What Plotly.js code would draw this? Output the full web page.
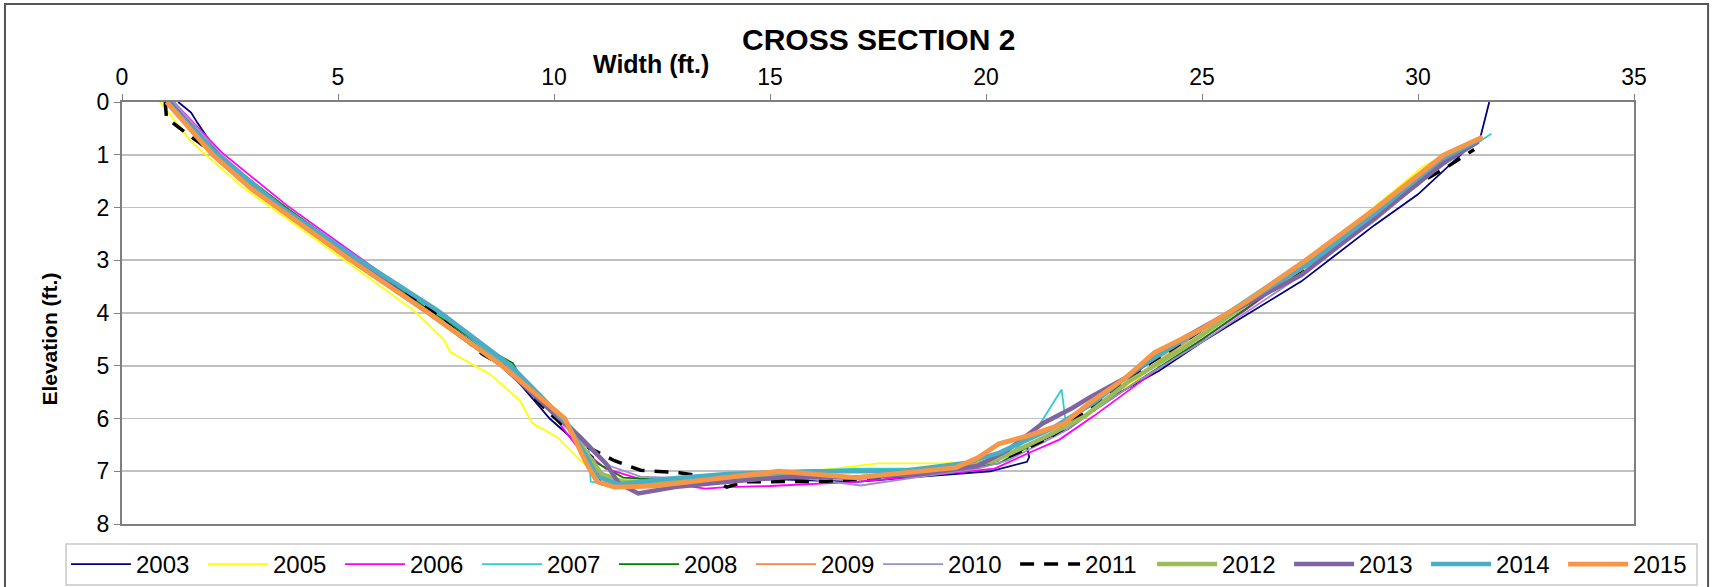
<!DOCTYPE html>
<html>
<head>
<meta charset="utf-8">
<script src="https://cdn.plot.ly/plotly-3.0.1.min.js"></script>
<style>
html,body{margin:0;padding:0;background:#fff;}
#chart{width:1713px;height:587px;}
</style>
</head>
<body>
<div id="chart"></div>
<script>
// ---- data (Width ft., Elevation ft.) ----
const years = ['2003','2005','2006','2007','2008','2009','2010','2011','2012','2013','2014','2015'];
const colors = ['#000080','#FFFF00','#FF00FF','#33CCCC','#008000','#F08A44','#A08CC8','#000000','#9BBB59','#8064A2','#4BACC6','#F79646'];

const x2003 = [1.3,1.6,1.75,2.2,3.6,5.3,7.1,8.8,9.9,10.9,11.1,12.0,13.5,15.0,17.0,18.5,20.1,20.95,21.0,20.95,21.9,23.0,24.0,25.0,26.5,27.3,29.0,30.0,31.45,31.65];
const y2003 = [0.0,0.2,0.4,0.95,1.95,2.95,3.95,4.95,6.0,6.73,7.25,7.25,7.25,7.15,7.2,7.1,7.0,6.82,6.73,6.54,6.2,5.55,5.1,4.55,3.8,3.4,2.33,1.75,0.65,0.0];

const x2005 = [0.88,1.6,2.73,3.04,4.12,5.5,6.74,7.45,7.6,8.5,9.2,9.5,10.07,10.6,10.9,11.5,13.0,15.0,16.5,17.5,19.0,20.0,21.0,21.9,22.6,22.8,23.3,24.5,26.0,28.0,29.5,30.1,30.5,31.45];
const y2005 = [0.0,0.75,1.57,1.76,2.39,3.2,3.94,4.51,4.74,5.15,5.65,6.09,6.35,6.79,6.98,7.15,7.2,7.05,6.95,6.85,6.85,6.8,6.5,6.1,5.6,5.45,5.4,4.55,3.8,2.65,1.65,1.23,1.06,0.72];

const x2006 = [1.2,2.3,3.8,5.5,7.2,8.9,9.9,10.5,11.2,12.0,13.5,14.0,15.0,17.0,19.0,20.2,21.0,21.7,22.5,24.0,26.0,28.0,30.0,31.3];
const y2006 = [0.0,0.95,1.95,2.95,3.95,4.95,5.85,6.5,6.95,7.15,7.33,7.3,7.28,7.2,7.05,6.95,6.65,6.4,5.95,5.05,3.95,2.75,1.55,0.75];

const x2007 = [1.0,2.2,3.7,5.5,7.2,8.9,9.7,10.4,10.8,10.85,11.3,12.5,14.0,15.5,17.0,18.5,19.5,20.5,21.1,21.75,21.85,22.4,22.9,24.0,26.0,28.0,30.0,31.7];
const y2007 = [0.0,1.0,2.0,3.0,3.95,5.0,5.55,6.15,6.5,7.2,7.25,7.15,7.05,7.0,6.95,6.95,6.9,6.7,6.3,5.45,6.1,5.7,5.4,4.85,3.75,2.65,1.5,0.6];

const x2008 = [1.1,2.2,3.8,5.5,7.2,8.6,9.05,9.25,10.3,10.9,11.6,13.0,15.0,17.0,19.0,20.3,21.5,22.5,23.5,25.0,27.0,29.0,30.5,31.4];
const y2008 = [0.0,1.0,2.0,3.0,4.0,4.75,4.95,5.25,6.1,6.8,7.12,7.18,7.15,7.12,7.0,6.85,6.3,5.85,5.3,4.5,3.35,2.2,1.2,0.75];

const x2009 = [1.05,2.1,3.65,5.35,7.15,8.85,10.2,10.8,11.2,12.5,14.0,15.5,17.0,19.0,20.2,21.5,22.5,23.5,24.8,26.5,28.3,30.0,31.45];
const y2009 = [0.0,1.0,2.0,3.0,4.0,5.0,6.0,6.9,7.2,7.22,7.1,7.05,7.1,7.0,6.8,6.3,5.85,5.2,4.45,3.5,2.45,1.4,0.7];

const x2010 = [1.2,2.3,3.7,5.4,7.1,8.8,10.0,10.7,11.3,12.0,13.5,14.8,15.5,17.1,18.5,19.8,20.5,21.8,22.5,23.5,25.0,27.0,29.0,30.6,31.4];
const y2010 = [0.0,1.0,2.0,3.0,4.0,5.0,5.95,6.5,6.9,7.1,7.15,7.05,7.1,7.27,7.1,6.95,6.8,6.25,5.85,5.3,4.55,3.45,2.25,1.15,0.75];

const x2011 = [1.0,1.03,1.5,2.1,3.3,5.2,7.09,8.36,8.83,9.9,10.8,11.4,12.0,12.9,13.5,14.0,14.4,16.3,18.5,20.2,20.6,21.5,22.5,23.8,25.5,27.5,29.0,29.9,30.6,31.3];
const y2011 = [0.0,0.3,0.6,0.95,1.75,2.95,3.9,4.79,5.0,5.9,6.55,6.8,6.98,7.03,7.1,7.3,7.2,7.19,7.05,6.8,6.7,6.35,5.75,4.95,4.05,3.1,2.2,1.6,1.27,0.9];

const x2012 = [1.05,2.1,3.6,5.3,7.1,8.8,10.1,10.7,11.1,11.6,13.0,15.0,17.0,19.0,20.2,21.5,22.3,23.3,24.5,26.0,27.5,29.1,30.6,31.45];
const y2012 = [0.0,1.0,2.0,3.0,4.0,5.0,5.9,6.6,7.05,7.2,7.2,7.1,7.12,7.0,6.8,6.3,5.95,5.3,4.7,3.85,3.05,2.05,1.05,0.7];

const x2013 = [1.1,2.2,3.7,5.4,7.1,8.8,10.0,10.6,11.2,11.5,11.95,12.8,14.0,15.5,17.0,18.5,19.8,20.5,21.3,22.0,22.4,23.3,24.3,25.5,27.3,29.0,30.6,31.4];
const y2013 = [0.0,1.0,2.0,3.0,4.0,5.0,5.9,6.35,6.85,7.23,7.42,7.3,7.2,7.1,7.12,7.05,6.9,6.6,6.1,5.8,5.6,5.2,4.6,4.05,3.28,2.2,1.15,0.75];

const x2014 = [1.05,2.2,3.7,5.5,7.3,9.0,9.6,10.3,10.8,11.0,11.5,12.5,14.0,16.0,18.0,19.5,20.3,21.5,22.5,23.5,25.0,27.5,29.1,30.5,31.45];
const y2014 = [0.0,1.0,2.0,3.0,3.95,5.0,5.5,6.1,6.8,7.1,7.25,7.15,7.05,7.0,7.0,6.85,6.65,6.2,5.7,5.05,4.3,3.05,2.05,1.1,0.7];

const x2015 = [1.03,2.1,3.0,3.6,5.3,7.1,8.8,10.25,10.75,11.0,11.4,12.3,13.2,14.8,15.2,17.0,19.3,19.8,20.3,21.0,21.8,22.4,23.2,23.9,25.0,26.0,27.4,29.05,30.6,31.5];
const y2015 = [0.0,1.0,1.65,2.0,3.0,4.0,5.0,6.0,6.85,7.2,7.3,7.28,7.2,7.05,7.0,7.12,6.93,6.75,6.48,6.32,6.1,5.7,5.25,4.75,4.3,3.8,3.0,2.0,1.0,0.66];

const xTicks = [0,5,10,15,20,25,30,35];
const yTicks = [0,1,2,3,4,5,6,7,8];

// ---- build ----
const xs = [x2003,x2005,x2006,x2007,x2008,x2009,x2010,x2011,x2012,x2013,x2014,x2015];
const ys = [y2003,y2005,y2006,y2007,y2008,y2009,y2010,y2011,y2012,y2013,y2014,y2015];
const widths = [1.8,1.8,1.8,1.8,1.8,1.8,1.8,3.5,4.5,4.5,4.5,4.8];

const traces = years.map((yr,i)=>({
  type:'scatter', mode:'lines', name:yr,
  legend: i < 6 ? 'legend' : 'legend2',
  x: xs[i], y: ys[i],
  line:{color:colors[i], width:widths[i], dash: yr==='2011' ? '14px,10px' : 'solid'}
}));

const F = 'Arial, "Liberation Sans", sans-serif';
const legendBase = {
  orientation:'h', xref:'container', yref:'container',
  xanchor:'left', y:0.0767, yanchor:'top',
  bgcolor:'rgba(0,0,0,0)', borderwidth:0,
  font:{family:F, size:24, color:'#000'},
  itemwidth:60, entrywidth:62, traceorder:'normal'
};
const layout = {
  width:1713, height:587,
  margin:{l:122, r:79, t:102, b:63, autoexpand:false},
  paper_bgcolor:'#ffffff', plot_bgcolor:'#ffffff',
  font:{family:F, color:'#000'},
  showlegend:true,
  xaxis:{
    side:'top', range:[0,35], tickvals:xTicks, ticktext:xTicks.map(String),
    showgrid:false, zeroline:false,
    showline:true, linecolor:'#7f7f7f', linewidth:2, mirror:true,
    ticks:'outside', ticklen:6, tickcolor:'#7f7f7f', tickwidth:1,
    tickfont:{family:F, size:23, color:'#000'}, ticklabelstandoff:0
  },
  yaxis:{
    range:[8,0], tickvals:yTicks, ticktext:yTicks.map(String),
    showgrid:true, gridcolor:'#c0c0c0', gridwidth:1.6, zeroline:false,
    showline:true, linecolor:'#7f7f7f', linewidth:2, mirror:true,
    ticks:'outside', ticklen:6, tickcolor:'#7f7f7f', tickwidth:1,
    tickfont:{family:F, size:23, color:'#000'}
  },
  legend: Object.assign({}, legendBase, {x:0.0385}),
  legend2: Object.assign({}, legendBase, {x:0.5126}),
  annotations:[
    {text:'<b>CROSS SECTION 2</b>', xref:'paper', yref:'paper', x:0.50, y:1.147, xanchor:'center', yanchor:'middle', showarrow:false, font:{family:F, size:30, color:'#000'}},
    {text:'<b>Width (ft.)</b>', xref:'paper', yref:'paper', x:0.35, y:1.09, xanchor:'center', yanchor:'middle', showarrow:false, font:{family:F, size:25, color:'#000'}},
    {text:'<b>Elevation (ft.)</b>', xref:'paper', yref:'paper', x:-0.048, y:0.438, xanchor:'center', yanchor:'middle', textangle:-90, showarrow:false, font:{family:F, size:21, color:'#000'}}
  ],
  shapes:[
    {type:'rect', xref:'paper', yref:'paper', x0:-0.0774, x1:1.049, y0:-0.3, y1:1.232, line:{color:'#555', width:2}, fillcolor:'rgba(0,0,0,0)', layer:'below'},
    {type:'rect', xref:'paper', yref:'paper', x0:-0.037, x1:1.0417, y0:-0.1445, y1:-0.0474, line:{color:'#c8c8c8', width:1.5}, fillcolor:'rgba(0,0,0,0)', layer:'below'}
  ]
};

Plotly.newPlot('chart', traces, layout, {displayModeBar:false, staticPlot:true});
</script>
</body>
</html>
